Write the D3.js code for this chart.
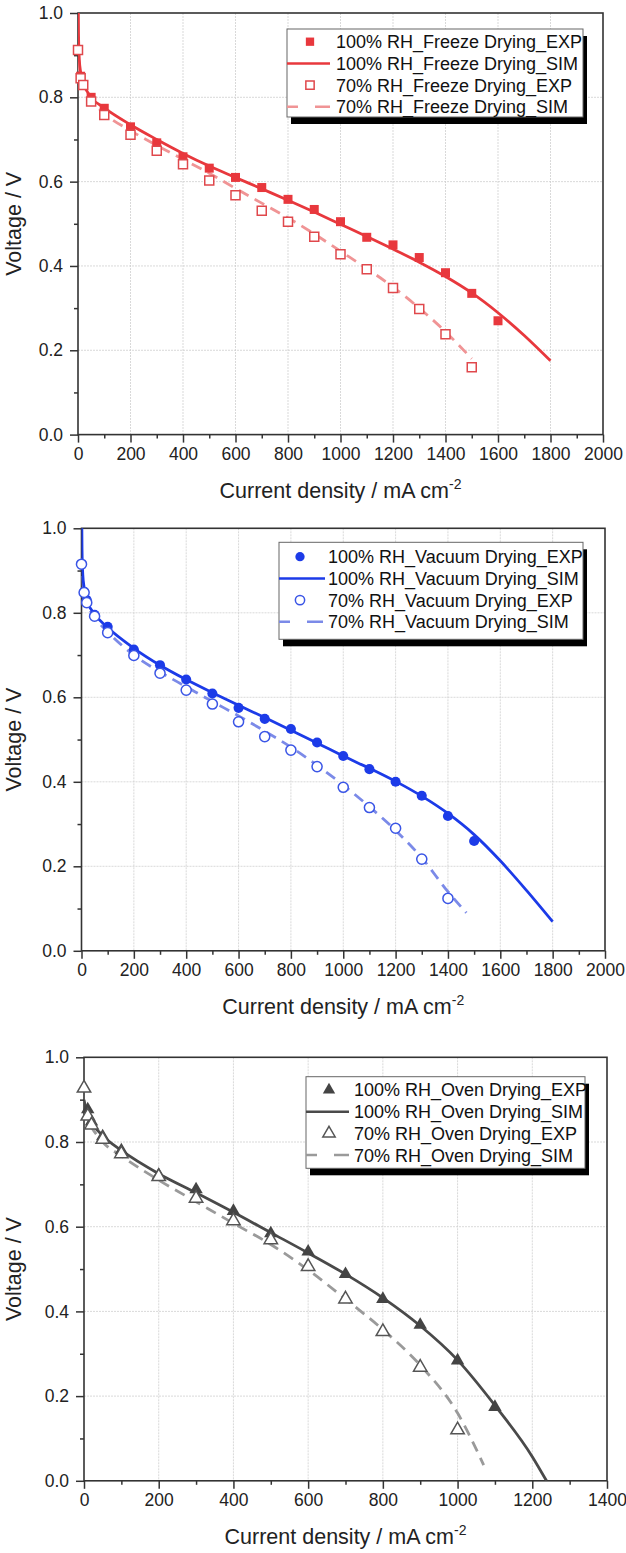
<!DOCTYPE html>
<html>
<head>
<meta charset="utf-8">
<script src="https://cdn.jsdelivr.net/npm/d3@7"></script>
<style>
  body { margin: 0; background: #fff; }
  svg { display: block; font-family: "Liberation Sans", Arial, sans-serif; }
</style>
</head>
<body>
<div id="chart"></div>
<script>
// ---- Freeze drying (top panel) ----
const freezeExp100I = [10, 20, 50, 100, 200, 300, 400, 500, 600, 700, 800, 900, 1000, 1100, 1200, 1300, 1400, 1500, 1600];
const freezeExp100V = [0.85, 0.83, 0.80, 0.774, 0.730, 0.692, 0.659, 0.632, 0.610, 0.586, 0.558, 0.534, 0.505, 0.468, 0.450, 0.420, 0.384, 0.335, 0.270];
const freezeSim100I = [0, 2, 5, 10, 20, 50, 100, 200, 300, 400, 500, 600, 700, 800, 900, 1000, 1100, 1200, 1300, 1400, 1500, 1600, 1700, 1800];
const freezeSim100V = [1.10, 0.95, 0.89, 0.86, 0.835, 0.80, 0.775, 0.735, 0.700, 0.667, 0.637, 0.610, 0.583, 0.556, 0.528, 0.499, 0.470, 0.440, 0.409, 0.375, 0.336, 0.289, 0.235, 0.175];
const freezeExp70I = [0, 10, 20, 50, 100, 200, 300, 400, 500, 600, 700, 800, 900, 1000, 1100, 1200, 1300, 1400, 1500];
const freezeExp70V = [0.912, 0.845, 0.829, 0.790, 0.758, 0.711, 0.673, 0.641, 0.603, 0.568, 0.531, 0.505, 0.469, 0.428, 0.392, 0.348, 0.298, 0.238, 0.160];
const freezeSim70I = [0, 5, 10, 20, 50, 100, 200, 300, 400, 500, 600, 700, 800, 900, 1000, 1100, 1200, 1300, 1400, 1500];
const freezeSim70V = [0.93, 0.87, 0.85, 0.83, 0.795, 0.762, 0.721, 0.686, 0.653, 0.620, 0.584, 0.549, 0.514, 0.476, 0.435, 0.394, 0.350, 0.300, 0.244, 0.180];

// ---- Vacuum drying (middle panel) ----
const vacExp100I = [10, 20, 50, 100, 200, 300, 400, 500, 600, 700, 800, 900, 1000, 1100, 1200, 1300, 1400, 1500];
const vacExp100V = [0.85, 0.83, 0.795, 0.767, 0.713, 0.676, 0.642, 0.609, 0.575, 0.549, 0.525, 0.493, 0.461, 0.430, 0.400, 0.367, 0.319, 0.260];
const vacSim100I = [0, 2, 5, 10, 20, 50, 100, 200, 300, 400, 500, 600, 700, 800, 900, 1000, 1100, 1200, 1300, 1400, 1500, 1600, 1700, 1800];
const vacSim100V = [1.10, 0.95, 0.89, 0.86, 0.83, 0.797, 0.765, 0.716, 0.676, 0.642, 0.611, 0.581, 0.552, 0.522, 0.492, 0.461, 0.432, 0.401, 0.366, 0.325, 0.275, 0.213, 0.143, 0.069];
const vacExp70I = [0, 10, 20, 50, 100, 200, 300, 400, 500, 600, 700, 800, 900, 1000, 1100, 1200, 1300, 1400];
const vacExp70V = [0.915, 0.848, 0.824, 0.792, 0.753, 0.699, 0.657, 0.617, 0.584, 0.542, 0.507, 0.475, 0.436, 0.387, 0.339, 0.290, 0.217, 0.124];
const vacSim70I = [0, 5, 10, 20, 50, 100, 200, 300, 400, 500, 600, 700, 800, 900, 1000, 1100, 1200, 1300, 1400, 1470];
const vacSim70V = [0.93, 0.87, 0.85, 0.825, 0.79, 0.755, 0.700, 0.660, 0.625, 0.590, 0.556, 0.520, 0.482, 0.439, 0.392, 0.341, 0.285, 0.220, 0.140, 0.090];

// ---- Oven drying (bottom panel) ----
const ovenExp100I = [10, 20, 50, 100, 200, 300, 400, 500, 600, 700, 800, 900, 1000, 1100];
const ovenExp100V = [0.877, 0.848, 0.813, 0.780, 0.722, 0.688, 0.637, 0.584, 0.541, 0.488, 0.429, 0.368, 0.284, 0.174];
const ovenSim100I = [0, 10, 20, 50, 100, 200, 300, 400, 500, 600, 700, 800, 900, 1000, 1100, 1200, 1238];
const ovenSim100V = [0.90, 0.86, 0.845, 0.815, 0.780, 0.725, 0.680, 0.634, 0.586, 0.538, 0.488, 0.432, 0.366, 0.285, 0.178, 0.057, 0.0];
const ovenExp70I = [0, 10, 20, 50, 100, 200, 300, 400, 500, 600, 700, 800, 900, 1000];
const ovenExp70V = [0.927, 0.861, 0.840, 0.806, 0.772, 0.718, 0.667, 0.614, 0.569, 0.506, 0.429, 0.352, 0.268, 0.120];
const ovenSim70I = [0, 10, 20, 50, 100, 200, 300, 400, 500, 600, 700, 800, 900, 1000, 1070];
const ovenSim70V = [0.88, 0.85, 0.835, 0.80, 0.767, 0.710, 0.659, 0.608, 0.558, 0.498, 0.429, 0.357, 0.273, 0.160, 0.037];

const freezeLabels = ["100% RH_Freeze Drying_EXP", "100% RH_Freeze Drying_SIM", "70% RH_Freeze Drying_EXP", "70% RH_Freeze Drying_SIM"];
const vacLabels = ["100% RH_Vacuum Drying_EXP", "100% RH_Vacuum Drying_SIM", "70% RH_Vacuum Drying_EXP", "70% RH_Vacuum Drying_SIM"];
const ovenLabels = ["100% RH_Oven Drying_EXP", "100% RH_Oven Drying_SIM", "70% RH_Oven Drying_EXP", "70% RH_Oven Drying_SIM"];

const yTicks = [0.0, 0.2, 0.4, 0.6, 0.8, 1.0];

const zip = (xs, ys) => xs.map((x, i) => [x, ys[i]]);

const svg = d3.select('#chart').append('svg')
  .attr('width', 626)
  .attr('height', 1553);

const panels = [
  {
    id: 'p1', left: 78, right: 603, top: 13, bottom: 434.6, xMax: 2000, xStep: 200,
    symbol: d3.symbolSquare, symSize: 81,
    c: { exp100: '#e8383d', sim100: '#e8383d', exp70: '#e0484c', sim70: '#f09495' },
    exp100: zip(freezeExp100I, freezeExp100V), sim100: zip(freezeSim100I, freezeSim100V),
    exp70: zip(freezeExp70I, freezeExp70V), sim70: zip(freezeSim70I, freezeSim70V),
    labels: freezeLabels,
    legend: { x: 287, y: 29, w: 296, h: 88, row0: 41.7, symX: 310, textX: 336, lineEnd: 330 }
  },
  {
    id: 'p2', left: 81.5, right: 605, top: 528.3, bottom: 950.8, xMax: 2000, xStep: 200,
    symbol: d3.symbolCircle, symSize: 80,
    c: { exp100: '#1c3be8', sim100: '#1c3be8', exp70: '#3a55e6', sim70: '#7b8ae8' },
    exp100: zip(vacExp100I, vacExp100V), sim100: zip(vacSim100I, vacSim100V),
    exp70: zip(vacExp70I, vacExp70V), sim70: zip(vacSim70I, vacSim70V),
    labels: vacLabels,
    legend: { x: 279, y: 542.3, w: 304, h: 97, row0: 556.7, symX: 300, textX: 328, lineEnd: 325 }
  },
  {
    id: 'p3', left: 84, right: 607, top: 1057.3, bottom: 1480.8, xMax: 1400, xStep: 200,
    symbol: d3.symbolTriangle, symSize: 78,
    c: { exp100: '#444444', sim100: '#4a4a4a', exp70: '#555555', sim70: '#9a9a9a' },
    exp100: zip(ovenExp100I, ovenExp100V), sim100: zip(ovenSim100I, ovenSim100V),
    exp70: zip(ovenExp70I, ovenExp70V), sim70: zip(ovenSim70I, ovenSim70V),
    labels: ovenLabels,
    legend: { x: 306, y: 1076.7, w: 279, h: 91.6, row0: 1090, symX: 329, textX: 354, lineEnd: 349 }
  }
];

panels.forEach(p => {
  const x = d3.scaleLinear().domain([0, p.xMax]).range([p.left, p.right]);
  const y = d3.scaleLinear().domain([0, 1]).range([p.bottom, p.top]);
  const g = svg.append('g');

  const xMajor = d3.range(0, p.xMax + 1, p.xStep);
  const xMinor = d3.range(p.xStep / 2, p.xMax, p.xStep);
  const yMinor = [0.1, 0.3, 0.5, 0.7, 0.9];

  // grid
  g.append('g').selectAll('line').data(xMajor.slice(1, -1)).enter().append('line')
    .attr('x1', d => x(d)).attr('x2', d => x(d))
    .attr('y1', p.top).attr('y2', p.bottom)
    .attr('stroke', '#cfcfcf').attr('stroke-width', 0.8).attr('stroke-dasharray', '2,1');
  g.append('g').selectAll('line').data(yTicks.slice(1, -1)).enter().append('line')
    .attr('y1', d => y(d)).attr('y2', d => y(d))
    .attr('x1', p.left).attr('x2', p.right)
    .attr('stroke', '#cfcfcf').attr('stroke-width', 0.8).attr('stroke-dasharray', '2,1');

  // axes
  g.append('g')
    .attr('transform', 'translate(0,' + p.bottom + ')')
    .call(d3.axisBottom(x).tickValues(xMajor).tickSize(8).tickSizeOuter(0).tickPadding(5).tickFormat(d3.format('d')));
  g.append('g')
    .attr('transform', 'translate(0,' + p.bottom + ')')
    .call(d3.axisBottom(x).tickValues(xMinor).tickSize(4).tickSizeOuter(0).tickFormat(''));
  g.append('g')
    .attr('transform', 'translate(' + p.left + ',0)')
    .call(d3.axisLeft(y).tickValues(yTicks).tickSize(8).tickSizeOuter(0).tickPadding(7).tickFormat(d3.format('.1f')));
  g.append('g')
    .attr('transform', 'translate(' + p.left + ',0)')
    .call(d3.axisLeft(y).tickValues(yMinor).tickSize(4).tickSizeOuter(0).tickFormat(''));
  g.selectAll('.tick line').attr('stroke', '#333').attr('stroke-width', 1.5);
  g.selectAll('.domain').remove();
  g.selectAll('.tick text').attr('font-size', '17.5px').attr('fill', '#222')
    .attr('font-family', '"Liberation Sans", Arial, sans-serif');

  // frame
  g.append('rect')
    .attr('x', p.left).attr('y', p.top)
    .attr('width', p.right - p.left).attr('height', p.bottom - p.top)
    .attr('fill', 'none').attr('stroke', '#333').attr('stroke-width', 1.6);

  // axis titles
  const xt = g.append('text')
    .attr('x', (p.left + p.right) / 2).attr('y', p.bottom + 63)
    .attr('text-anchor', 'middle').attr('font-size', '21.5px').attr('fill', '#222');
  xt.append('tspan').text('Current density / mA cm');
  xt.append('tspan').attr('dy', -9).attr('font-size', '14px').text('-2');
  g.append('text')
    .attr('transform', 'translate(21,' + ((p.top + p.bottom) / 2) + ') rotate(-90)')
    .attr('text-anchor', 'middle').attr('font-size', '21.5px').attr('fill', '#222')
    .text('Voltage / V');

  // curves, clipped to plot area
  svg.append('clipPath').attr('id', 'clip-' + p.id)
    .append('rect').attr('x', p.left).attr('y', p.top)
    .attr('width', p.right - p.left).attr('height', p.bottom - p.top);
  const line = d3.line().x(d => x(d[0])).y(d => y(d[1])).curve(d3.curveMonotoneX);
  const plot = g.append('g').attr('clip-path', 'url(#clip-' + p.id + ')');
  plot.append('path').datum(p.sim70).attr('d', line)
    .attr('fill', 'none').attr('stroke', p.c.sim70).attr('stroke-width', 2.8).attr('stroke-dasharray', '11,7');
  plot.append('path').datum(p.sim100).attr('d', line)
    .attr('fill', 'none').attr('stroke', p.c.sim100).attr('stroke-width', 2.8);

  const sym = d3.symbol().type(p.symbol).size(p.symSize);
  g.append('g').selectAll('path').data(p.exp100).enter().append('path')
    .attr('transform', d => 'translate(' + x(d[0]) + ',' + y(d[1]) + ')')
    .attr('d', sym).attr('fill', p.c.exp100);
  g.append('g').selectAll('path').data(p.exp70).enter().append('path')
    .attr('transform', d => 'translate(' + x(d[0]) + ',' + y(d[1]) + ')')
    .attr('d', sym).attr('fill', 'white').attr('stroke', p.c.exp70).attr('stroke-width', 1.5);

  // legend
  const L = p.legend;
  const lg = g.append('g');
  lg.append('rect').attr('x', L.x + 4).attr('y', L.y + 7).attr('width', L.w).attr('height', L.h).attr('fill', '#000');
  lg.append('rect').attr('x', L.x).attr('y', L.y).attr('width', L.w).attr('height', L.h)
    .attr('fill', 'white').attr('stroke', '#666').attr('stroke-width', 1);
  const rows = p.labels.map((t, i) => ({ t: t, i: i, cy: L.row0 + i * 21.7 }));
  lg.selectAll('text.lab').data(rows).enter().append('text')
    .attr('class', 'lab')
    .attr('x', L.textX).attr('y', d => d.cy).attr('dy', '0.36em')
    .attr('font-size', '18px').attr('fill', '#111')
    .text(d => d.t);
  const symL = d3.symbol().type(p.symbol).size(p.symSize * 0.85);
  lg.append('path').attr('transform', 'translate(' + L.symX + ',' + rows[0].cy + ')')
    .attr('d', symL).attr('fill', p.c.exp100);
  lg.append('path').attr('transform', 'translate(' + L.symX + ',' + rows[2].cy + ')')
    .attr('d', symL).attr('fill', 'white').attr('stroke', p.c.exp70).attr('stroke-width', 1.5);
  lg.append('line').attr('x1', L.x).attr('x2', L.lineEnd).attr('y1', rows[1].cy).attr('y2', rows[1].cy)
    .attr('stroke', p.c.sim100).attr('stroke-width', 2.5);
  lg.append('line').attr('x1', L.x).attr('x2', L.lineEnd).attr('y1', rows[3].cy).attr('y2', rows[3].cy)
    .attr('stroke', p.c.sim70).attr('stroke-width', 2.5).attr('stroke-dasharray', '11,17,16');
});
</script>
</body>
</html>
